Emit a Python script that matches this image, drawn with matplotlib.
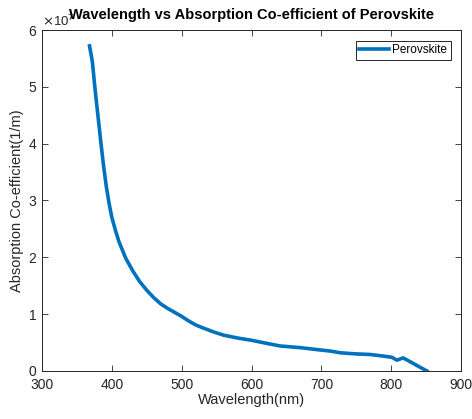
import matplotlib
matplotlib.use("Agg")
import matplotlib.pyplot as plt
from matplotlib.ticker import ScalarFormatter

plt.rcParams["font.family"] = ["Liberation Sans", "DejaVu Sans"]

# values (wavelength in nm, absorption in 1/m)
wavelength = [368, 372, 376, 380, 384, 388, 392, 396, 400, 405, 410, 420,
              430, 440, 450, 460, 470, 480, 490, 500, 510, 520, 530, 545,
              560, 580, 600, 620, 641, 670, 698, 713, 727, 750, 770, 790,
              801, 808, 817, 851]
absorption = [5.72e7, 5.45e7, 4.95e7, 4.50e7, 4.05e7, 3.62e7, 3.25e7, 2.95e7,
              2.70e7, 2.48e7, 2.28e7, 1.98e7, 1.76e7, 1.57e7, 1.42e7, 1.29e7,
              1.18e7, 1.10e7, 1.03e7, 0.96e7, 0.88e7, 0.81e7, 0.76e7, 0.69e7,
              0.63e7, 0.58e7, 0.54e7, 0.49e7, 0.44e7, 0.41e7, 0.37e7, 0.35e7,
              0.32e7, 0.30e7, 0.29e7, 0.26e7, 0.24e7, 0.19e7, 0.23e7, 0.0]

x_ticks = [300, 400, 500, 600, 700, 800, 900]
y_ticks = [0, 1e7, 2e7, 3e7, 4e7, 5e7, 6e7]

fig = plt.figure(figsize=(4.72, 4.19), dpi=100)
ax = fig.add_axes([0.089, 0.1146, 0.888, 0.8138])

ax.plot(wavelength, absorption, color="#0072BD", lw=2.6, label="Perovskite",
        solid_joinstyle="round")

ax.set_xlim(300, 900)
ax.set_ylim(0, 6e7)
ax.set_xticks(x_ticks)
ax.set_yticks(y_ticks)

fmt = ScalarFormatter(useMathText=True)
fmt.set_powerlimits((0, 0))
ax.yaxis.set_major_formatter(fmt)
ax.yaxis.get_offset_text().set_fontsize(9.5)
ax.yaxis.get_offset_text().set_color("#262626")

ax.tick_params(direction="in", top=True, right=True, length=4, width=0.6,
               labelsize=10, colors="#262626")
ax.tick_params(axis="x", pad=5)
for s in ax.spines.values():
    s.set_linewidth(0.7)
    s.set_color("#262626")

ax.set_xlabel("Wavelength(nm)", fontsize=10.5, color="#262626", labelpad=1)
ax.set_ylabel("Absorption Co-efficient(1/m)", fontsize=10.5, color="#262626", labelpad=3)
ax.set_title("Wavelength vs Absorption Co-efficient of Perovskite",
             fontsize=10.5, fontweight="bold", y=1.008)

leg = ax.legend(loc="upper right", fontsize=8.5, fancybox=False, framealpha=1,
                edgecolor="#262626", handlelength=2.5, handletextpad=0.3,
                borderpad=0.3, borderaxespad=0.9)
leg.get_frame().set_linewidth(0.7)

fig.savefig("out.png", dpi=100)
